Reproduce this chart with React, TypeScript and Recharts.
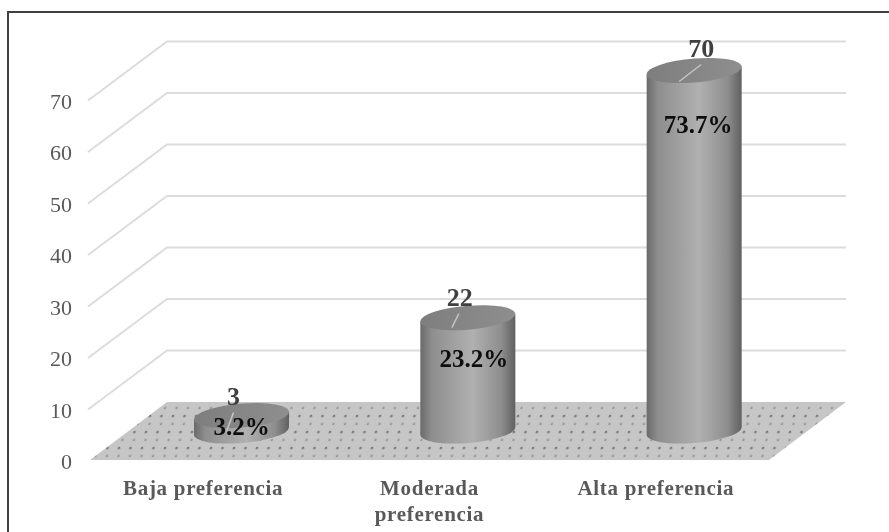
import React from 'react';
import { BarChart, Bar, XAxis, YAxis, CartesianGrid, LabelList } from 'recharts';

const categories = ['Baja preferencia', 'Moderada preferencia', 'Alta preferencia'];
const categoryLines = [['Baja preferencia'], ['Moderada', 'preferencia'], ['Alta preferencia']];
const counts = [3, 22, 70];
const percents = ['3.2%', '23.2%', '73.7%'];
const yTicks = [0, 10, 20, 30, 40, 50, 60, 70];

const chartData = categories.map((name, i) => ({ name, count: counts[i], percent: percents[i] }));

// fake 3d: the back wall sits up and to the right of the front plane
const DEPTH_X = 77;
const DEPTH_Y = 58;
const BAR_SHIFT_X = 38;
const BAR_SHIFT_Y = 29;
const FLOOR_Y = 460;

// label offsets from the centre of each cylinder top, hand tuned per bar
const countOffsets = [[-8, -20], [-8, -21], [7, -23]];
const percentOffsets = [[0, 10], [6, 40], [4, 53]];
const leaderOffsets = [[-8, -3, -15, 16], [-9, -4, -16, 10], [7, -6, -15, 11]];

function GridLine(props: any) {
  const { x1, x2, y1 } = props;
  if (y1 >= FLOOR_Y - 1) {
    const points = [
      [x1, y1],
      [x1 + DEPTH_X, y1 - DEPTH_Y],
      [x2 + DEPTH_X, y1 - DEPTH_Y],
      [x2, y1],
    ];
    return <polygon key="floor" points={points.map((p) => p.join(',')).join(' ')} fill="url(#floorDots)" />;
  }
  return (
    <polyline
      key={y1}
      points={`${x1 - 2},${y1 + 1} ${x1 + DEPTH_X},${y1 - DEPTH_Y} ${x2 + DEPTH_X},${y1 - DEPTH_Y}`}
      fill="none"
      stroke="#dcdcdc"
      strokeWidth={2}
    />
  );
}

function Cylinder(props: any) {
  const { x, y, width, height } = props;
  const r = width / 2;
  const cx = x + r + BAR_SHIFT_X;
  const top = y - BAR_SHIFT_Y;
  const base = top + height;
  const ry = 12;
  return (
    <g transform={`translate(${cx},0) skewY(-4.5) translate(${-cx},0)`}>
      <path
        d={`M${cx - r},${top} L${cx - r},${base} A${r},${ry} 0 0 0 ${cx + r},${base} L${cx + r},${top} Z`}
        fill="url(#cylinderSide)"
      />
      <ellipse cx={cx} cy={top} rx={r} ry={ry} fill="url(#cylinderTop)" />
    </g>
  );
}

function barTop(props: any) {
  const box = props.viewBox ?? props;
  return { cx: box.x + box.width / 2 + BAR_SHIFT_X, top: box.y - BAR_SHIFT_Y };
}

function CountLabel(props: any) {
  const { cx, top } = barTop(props);
  const [dx, dy] = countOffsets[props.index];
  const [lx1, ly1, lx2, ly2] = leaderOffsets[props.index];
  return (
    <g>
      <line x1={cx + lx1} y1={top + ly1} x2={cx + lx2} y2={top + ly2} stroke="#c4c4c4" strokeWidth={1.5} />
      <text x={cx + dx} y={top + dy + 9} textAnchor="middle" fontFamily="Liberation Serif" fontWeight="bold" fontSize={26} fill="#404040">
        {props.value}
      </text>
    </g>
  );
}

function PercentLabel(props: any) {
  const { cx, top } = barTop(props);
  const [dx, dy] = percentOffsets[props.index];
  return (
    <text x={cx + dx} y={top + dy + 9} textAnchor="middle" fontFamily="Liberation Serif" fontWeight="bold" fontSize={25} fill="#0d0d0d">
      {props.value}
    </text>
  );
}

function CategoryTick(props: any) {
  const { x, y, index } = props;
  return (
    <text
      x={x}
      y={y}
      textAnchor="middle"
      fontFamily="Liberation Serif"
      fontWeight="bold"
      fontSize={21}
      letterSpacing={0.7}
      fill="#595959"
    >
      {categoryLines[index].map((line, i) => (
        <tspan key={line} x={x} dy={i === 0 ? 15 : 26}>
          {line}
        </tspan>
      ))}
    </text>
  );
}

export default function App() {
  return (
    <div style={{ position: 'absolute', left: 0, top: 0, width: 889, height: 532, overflow: 'hidden', background: '#fff' }}>
      <div style={{ position: 'absolute', left: 7, top: 11, width: 900, height: 600, borderTop: '2px solid #404040', borderLeft: '2px solid #404040' }} />
      <BarChart
        width={889}
        height={532}
        data={chartData}
        barSize={95}
        margin={{ top: 99.5, right: 120, bottom: 12, left: 30 }}
        style={{ position: 'absolute', left: 0, top: 0, filter: 'blur(0.4px)' }}
      >
        <defs>
          <pattern id="floorDots" width="11.5" height="16" patternUnits="userSpaceOnUse" patternTransform="translate(90,460) skewX(-14)">
            <rect width="11.5" height="16" fill="#c6c6c6" />
            <circle cx="3" cy="4" r="1.2" fill="#707070" />
            <circle cx="4.5" cy="12" r="1.1" fill="#8e8e8e" />
          </pattern>
          <linearGradient id="cylinderSide" x1="0" y1="0" x2="1" y2="0">
            <stop offset="0%" stopColor="#6a6a6a" />
            <stop offset="12%" stopColor="#8e8e8e" />
            <stop offset="55%" stopColor="#b0b0b0" />
            <stop offset="85%" stopColor="#8e8e8e" />
            <stop offset="100%" stopColor="#606060" />
          </linearGradient>
          <linearGradient id="cylinderTop" x1="0" y1="0" x2="1" y2="0">
            <stop offset="0%" stopColor="#7e7e7e" />
            <stop offset="100%" stopColor="#8e8e8e" />
          </linearGradient>
        </defs>
        <CartesianGrid vertical={false} horizontal={GridLine as any} />
        <XAxis dataKey="name" interval={0} height={60} axisLine={false} tickLine={false} tickMargin={14} tick={CategoryTick as any} />
        <YAxis
          width={60}
          domain={[0, 70]}
          ticks={yTicks}
          interval={0}
          axisLine={false}
          tickLine={false}
          tickMargin={12}
          tick={{ fontFamily: 'Liberation Serif', fontSize: 22, fill: '#595959', dy: 1.5 }}
        />
        <Bar dataKey="count" shape={Cylinder as any} isAnimationActive={false}>
          <LabelList dataKey="count" content={CountLabel as any} />
          <LabelList dataKey="percent" content={PercentLabel as any} />
        </Bar>
      </BarChart>
    </div>
  );
}
